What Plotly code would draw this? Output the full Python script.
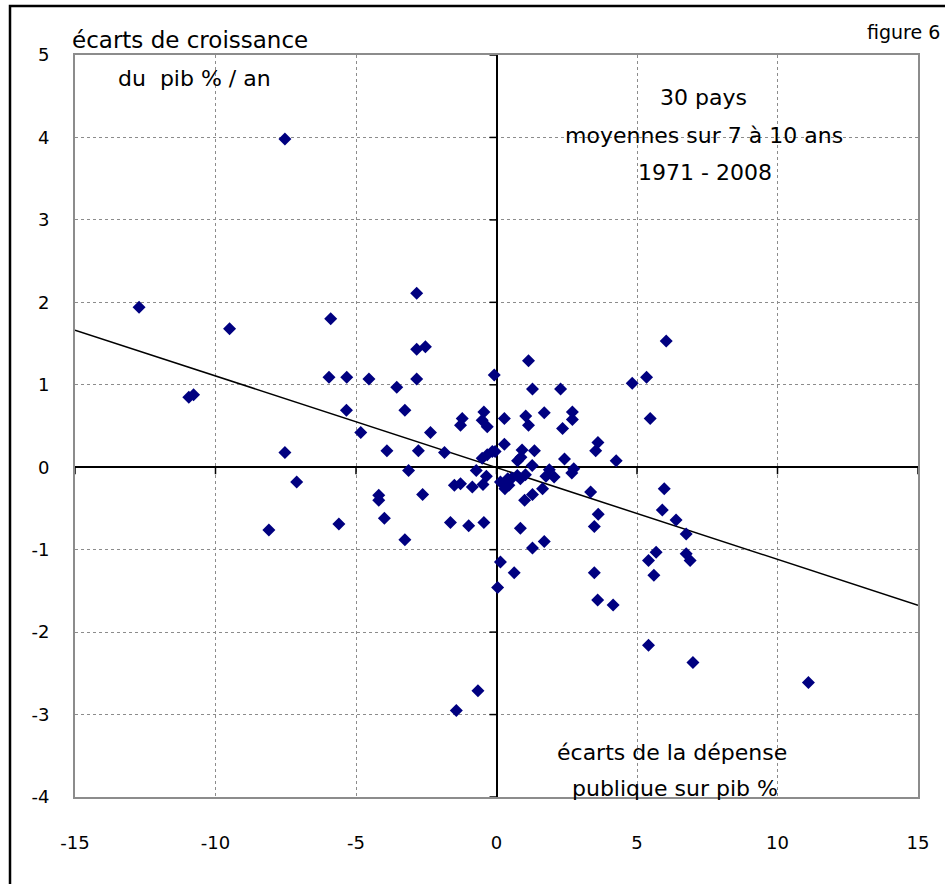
import numpy as np
import plotly.graph_objects as go

# écarts de la dépense publique sur pib % (x) vs écarts de croissance du pib %/an (y)
depense = [
    -12.72, -7.53, -9.50, -10.95, -10.78, -5.90, -2.84, -2.84, -2.53, -5.96,
    -5.33, -4.54, -3.55, -2.84, -0.08, -5.34, -3.26, -4.83, -2.35, -1.22,
    -1.28, -0.45, -0.51, -0.33, 0.28, 0.28, -7.53, -3.90, -2.78, -1.85,
    -0.51, -0.33, -0.15, -0.05, -0.72, -3.13, -0.36, -7.11, -2.63, -1.50,
    -1.28, -0.86, -0.48, 0.14, 0.30, 0.40, 0.55, 0.44, 0.74, 1.03,
    0.85, -4.19, -4.19, -3.99, -5.61, -8.10, -1.64, -0.99, -0.45, -3.26,
    0.14, 0.63, 0.04,
    6.04, 1.14, 4.83, 5.34, 1.28, 2.28, 5.47, 1.04, 1.14, 1.70,
    2.70, 2.70, 2.35, 0.91, 0.75, 0.87, 1.35, 1.27, 2.42, 3.61,
    3.53, 4.26, 1.88, 1.76, 2.05, 2.75, 2.68, 1.64, 1.28, 1.00,
    3.35, 5.97, 5.90, 6.39, 6.75, 3.62, 3.48, 0.85, 1.70, 1.28,
    3.48, 5.68, 5.41, 6.75, 6.89, 5.60, 3.60, 4.15, 5.41, 6.99,
    11.10, -0.66, -1.43,
]
croissance = [
    1.94, 3.98, 1.68, 0.85, 0.88, 1.80, 2.11, 1.43, 1.46, 1.09,
    1.09, 1.07, 0.97, 1.07, 1.12, 0.69, 0.69, 0.42, 0.42, 0.59,
    0.51, 0.67, 0.57, 0.49, 0.59, 0.28, 0.18, 0.20, 0.20, 0.18,
    0.11, 0.15, 0.19, 0.19, -0.04, -0.04, -0.11, -0.18, -0.33, -0.22,
    -0.20, -0.24, -0.21, -0.18, -0.26, -0.14, -0.13, -0.22, -0.10, -0.09,
    -0.14, -0.34, -0.40, -0.62, -0.69, -0.76, -0.67, -0.71, -0.67, -0.88,
    -1.15, -1.28, -1.46,
    1.53, 1.29, 1.02, 1.09, 0.95, 0.95, 0.59, 0.62, 0.51, 0.66,
    0.67, 0.58, 0.47, 0.21, 0.08, 0.12, 0.20, 0.02, 0.10, 0.30,
    0.20, 0.08, -0.03, -0.11, -0.12, -0.02, -0.07, -0.26, -0.33, -0.40,
    -0.30, -0.26, -0.52, -0.64, -0.81, -0.57, -0.72, -0.74, -0.90, -0.98,
    -1.28, -1.03, -1.13, -1.05, -1.13, -1.31, -1.61, -1.67, -2.16, -2.37,
    -2.61, -2.71, -2.95,
]

x_range = [-15, 15]
y_range = [-4, 5]
x_ticks = [-15, -10, -5, 0, 5, 10, 15]
x_tick_labels = ["-15", "-10", "-5", "0", "5", "10", "15"]
y_ticks = [-4, -3, -2, -1, 0, 1, 2, 3, 4, 5]
y_tick_labels = ["-4", "-3", "-2", "-1", "0", "1", "2", "3", "4", "5"]

# least-squares trend line
slope, intercept = np.polyfit(depense, croissance, 1)
trend_x = np.array(x_range, dtype=float)
trend_y = slope * trend_x + intercept

FONT = "DejaVu Sans"

fig = go.Figure()
fig.add_trace(go.Scatter(
    x=trend_x, y=trend_y, mode="lines",
    line=dict(color="black", width=1.5), hoverinfo="skip", showlegend=False,
))
fig.add_trace(go.Scatter(
    x=depense, y=croissance, mode="markers",
    marker=dict(symbol="diamond", size=10, color="#000080",
                line=dict(width=0)),
    showlegend=False,
))

shapes = []
# tick marks on the zero axes
for xv in x_ticks:
    shapes.append(dict(type="line", xref="x", yref="y", x0=xv, x1=xv,
                       ysizemode="pixel", yanchor=0, y0=0, y1=-7,
                       line=dict(color="black", width=1.5)))
for yv in y_ticks:
    shapes.append(dict(type="line", xref="x", yref="y", y0=yv, y1=yv,
                       xsizemode="pixel", xanchor=0, x0=-7, x1=0,
                       line=dict(color="black", width=1.5)))
# outer frame (runs off the right and bottom edges, as in the original)
shapes.append(dict(type="rect", xref="paper", yref="paper",
                   x0=-0.0771, x1=1.12, y0=-0.2, y1=1.066,
                   line=dict(color="black", width=2.5), layer="below"))

ann_font = dict(family=FONT, size=22, color="black")
annotations = [
    dict(text="écarts de croissance", x=-0.0059, y=1.0202, xanchor="left",
         yanchor="middle", font=dict(family=FONT, size=23, color="black")),
    dict(text="du  pib % / an", x=0.0486, y=0.969, xanchor="left",
         yanchor="middle", font=ann_font),
    dict(text="figure 6", x=1.0285, y=1.031, xanchor="right",
         yanchor="middle", font=dict(family=FONT, size=19, color="black")),
    dict(text="30 pays", x=0.745, y=0.943, xanchor="center",
         yanchor="middle", font=ann_font),
    dict(text="moyennes sur 7 à 10 ans", x=0.746, y=0.892, xanchor="center",
         yanchor="middle", font=ann_font),
    dict(text="1971 - 2008", x=0.747, y=0.842, xanchor="center",
         yanchor="middle", font=ann_font),
    dict(text="écarts de la dépense", x=0.708, y=0.0606, xanchor="center",
         yanchor="middle", font=ann_font),
    dict(text="publique sur pib %", x=0.712, y=0.0121, xanchor="center",
         yanchor="middle", font=ann_font),
]
for a in annotations:
    a.update(xref="paper", yref="paper", showarrow=False)

fig.update_layout(
    width=945, height=884,
    margin=dict(l=75, r=27, t=55, b=87),
    paper_bgcolor="white", plot_bgcolor="white",
    font=dict(family=FONT, size=18, color="black"),
    shapes=shapes, annotations=annotations,
    xaxis=dict(range=x_range, tickvals=x_ticks, ticktext=x_tick_labels,
               showgrid=True,
               gridcolor="#8c8c8c", griddash="dot", gridwidth=1,
               zeroline=True, zerolinecolor="black", zerolinewidth=1.5,
               showline=True, mirror=True, linecolor="#8c8c8c", linewidth=2,
               ticks="outside", ticklen=28, tickcolor="rgba(0,0,0,0)",
               tickfont=dict(family=FONT, size=18, color="black")),
    yaxis=dict(range=y_range, tickvals=y_ticks, ticktext=y_tick_labels,
               showgrid=True,
               gridcolor="#8c8c8c", griddash="dot", gridwidth=1,
               zeroline=True, zerolinecolor="black", zerolinewidth=1.5,
               showline=True, mirror=True, linecolor="#8c8c8c", linewidth=2,
               ticks="outside", ticklen=20, tickcolor="rgba(0,0,0,0)",
               tickfont=dict(family=FONT, size=18, color="black")),
)

# remove the default page margin so the 945x884 figure fills the window exactly
fig.write_html(
    "out.html",
    config={"displayModeBar": False},
    post_script="document.body.style.margin='0';"
                "document.body.style.overflow='hidden';",
)
